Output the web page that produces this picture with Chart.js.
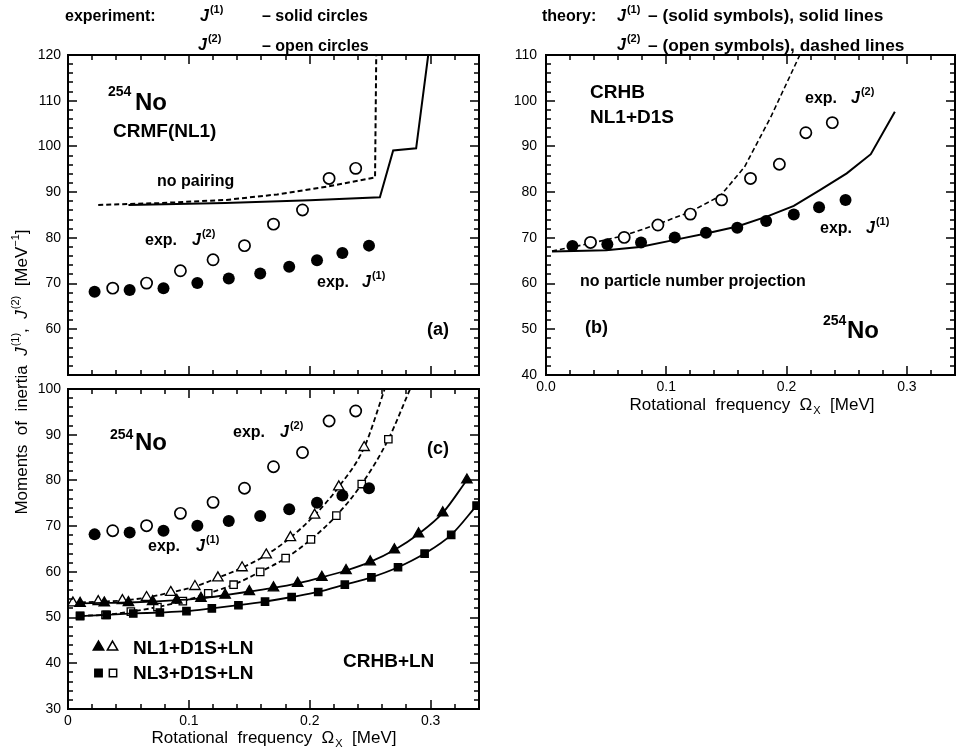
<!DOCTYPE html>
<html>
<head>
<meta charset="utf-8">
<script src="https://cdn.jsdelivr.net/npm/chart.js@4.4.1/dist/chart.umd.min.js"></script>
<style>
  html, body { margin: 0; padding: 0; background: #fff; }
  #wrap { position: relative; width: 961px; height: 756px; }
  #wrap canvas { position: absolute; left: 0; top: 0; }
</style>
</head>
<body>
<div id="wrap">
  <canvas id="panelA" width="961" height="756"></canvas>
  <canvas id="panelB" width="961" height="756"></canvas>
  <canvas id="panelC" width="961" height="756"></canvas>
</div>
<script>
// moments of inertia of 254No vs rotational frequency, three panels

// experiment (shown in every panel)
const expOmegaJ1 = [0.022, 0.051, 0.079, 0.107, 0.133, 0.159, 0.183, 0.206, 0.227, 0.249];
const expJ1      = [68.2, 68.6, 69.0, 70.1, 71.1, 72.2, 73.7, 75.1, 76.7, 78.3];
const expOmegaJ2 = [0.037, 0.065, 0.093, 0.120, 0.146, 0.170, 0.194, 0.216, 0.238];
const expJ2      = [69.0, 70.1, 72.8, 75.2, 78.3, 83.0, 86.1, 93.0, 95.2];

// (a) CRMF(NL1), no pairing
const crmfOmegaJ1 = [0.050, 0.130, 0.200, 0.258, 0.269, 0.288, 0.298];
const crmfJ1      = [87.2, 87.6, 88.2, 88.9, 99.1, 99.6, 120];
const crmfOmegaJ2 = [0.025, 0.076, 0.131, 0.173, 0.214, 0.254, 0.255];
const crmfJ2      = [87.2, 87.6, 88.3, 89.5, 91.2, 93.2, 120];

// (b) CRHB NL1+D1S, no particle number projection
const crhbOmegaJ1 = [0.005, 0.050, 0.078, 0.106, 0.134, 0.159, 0.184, 0.206, 0.228, 0.250, 0.270, 0.290];
const crhbJ1      = [67.0, 67.3, 68.0, 69.5, 71.0, 72.5, 74.7, 77.0, 80.5, 84.1, 88.3, 97.6];
const crhbOmegaJ2 = [0.005, 0.037, 0.065, 0.093, 0.120, 0.145, 0.165, 0.187, 0.211];
const crhbJ2      = [67.1, 68.8, 70.5, 73.0, 75.7, 79.2, 85.5, 96.5, 110];

// (c) CRHB+LN
const nl1OmegaJ1 = [0.01, 0.03, 0.05, 0.07, 0.09, 0.11, 0.13, 0.15, 0.17, 0.19, 0.21, 0.23, 0.25, 0.27, 0.29, 0.31, 0.33];
const nl1J1      = [53.1, 53.2, 53.3, 53.5, 53.8, 54.2, 54.9, 55.7, 56.5, 57.5, 58.8, 60.3, 62.2, 64.8, 68.3, 72.9, 80.1];
const nl1OmegaJ2 = [0.004, 0.025, 0.045, 0.065, 0.085, 0.105, 0.124, 0.144, 0.164, 0.184, 0.204, 0.224, 0.245];
const nl1J2      = [53.2, 53.5, 53.7, 54.4, 55.5, 56.8, 58.7, 60.9, 63.7, 67.5, 72.4, 78.6, 87.2];
const nl1J2TailOmega = [0.262];
const nl1J2Tail      = [100];
const nl3OmegaJ1 = [0.010, 0.032, 0.054, 0.076, 0.098, 0.119, 0.141, 0.163, 0.185, 0.207, 0.229, 0.251, 0.273, 0.295, 0.317, 0.338];
const nl3J1      = [50.3, 50.6, 50.9, 51.1, 51.4, 52.0, 52.7, 53.5, 54.5, 55.6, 57.2, 58.8, 61.0, 64.0, 68.1, 74.5];
const nl3OmegaJ2 = [0.010, 0.031, 0.052, 0.074, 0.095, 0.116, 0.137, 0.159, 0.180, 0.201, 0.222, 0.243, 0.265];
const nl3J2      = [50.4, 50.6, 51.3, 52.3, 53.6, 55.3, 57.2, 60.0, 63.0, 67.1, 72.3, 79.2, 89.0];
const nl3J2TailOmega = [0.283];
const nl3J2Tail      = [100];

// axis ticks
const xTicks = [0, 0.1, 0.2, 0.3];
const xTickTextB = ['0.0', '0.1', '0.2', '0.3'];
const xTickTextC = ['0', '0.1', '0.2', '0.3'];
const yTicksA = [60, 70, 80, 90, 100, 110, 120];
const yTicksB = [40, 50, 60, 70, 80, 90, 100, 110];
const yTicksC = [30, 40, 50, 60, 70, 80, 90, 100];

const FONT = '"Liberation Sans", Arial, Helvetica, sans-serif';
const AXIS_W = 50, AXIS_H = 40;
const X_MINOR = 0.02, Y_MINOR = 2;

const pts = (xs, ys) => xs.map((x, i) => ({ x: x, y: ys[i] }));

// draws a row of text pieces; each piece may change size, weight, style and baseline shift
function runs(ctx, x, y, parts, align) {
  const fontOf = p => `${p.style || 'normal'} ${p.weight || 'normal'} ${p.size}px ${FONT}`;
  let total = 0;
  parts.forEach(p => { ctx.font = fontOf(p); total += ctx.measureText(p.t).width + (p.dx || 0); });
  let cx = align === 'center' ? x - total / 2 : x;
  parts.forEach(p => {
    ctx.font = fontOf(p);
    cx += p.dx || 0;
    ctx.fillText(p.t, cx, y + (p.dy || 0));
    cx += ctx.measureText(p.t).width;
  });
}

function label(ctx, str, x, y, size) {
  ctx.font = `bold ${size}px ${FONT}`;
  ctx.fillText(str, x, y);
}

// italic J with the order as superscript
function moment(ctx, x, y, n, size) {
  runs(ctx, x, y, [
    { t: 'J', size: size, weight: 'bold', style: 'italic' },
    { t: '(' + n + ')', size: 11, weight: 'bold', dy: -8, dx: 1 }
  ]);
}

function nuclide(ctx, x, y, gap, lift) {
  label(ctx, '254', x, y - lift, 14);
  label(ctx, 'No', x + gap, y, 24);
}

function omegaTitle(ctx, cx, y) {
  runs(ctx, cx, y, [
    { t: 'Rotational  frequency  \u03A9', size: 17 },
    { t: 'X', size: 11, dy: 4, dx: 1 },
    { t: '  [MeV]', size: 17 }
  ], 'center');
}

function marker(ctx, style, filled, x, y, r) {
  ctx.beginPath();
  if (style === 'triangle') {
    ctx.moveTo(x, y - r);
    ctx.lineTo(x + r * 0.866, y + r * 0.5);
    ctx.lineTo(x - r * 0.866, y + r * 0.5);
    ctx.closePath();
  } else {
    const s = r * Math.SQRT1_2;
    ctx.rect(x - s, y - s, 2 * s, 2 * s);
  }
  ctx.lineWidth = 1.5;
  ctx.fillStyle = filled ? '#000' : '#fff';
  ctx.fill();
  ctx.stroke();
  ctx.fillStyle = '#000';
}

// box with inward ticks on all four sides
const frame = {
  id: 'frame',
  afterDatasetsDraw(chart) {
    const { ctx, chartArea: a, scales: { x, y } } = chart;
    ctx.save();
    ctx.strokeStyle = '#000';
    ctx.lineWidth = 1.5;
    ctx.beginPath();
    const nx = Math.round(x.max / X_MINOR);
    for (let k = 1; k < nx; k++) {
      const len = k % 5 === 0 ? 9 : 5;
      const px = Math.round(x.getPixelForValue(k * X_MINOR));
      ctx.moveTo(px, a.bottom); ctx.lineTo(px, a.bottom - len);
      ctx.moveTo(px, a.top); ctx.lineTo(px, a.top + len);
    }
    const k0 = Math.round(y.min / Y_MINOR), k1 = Math.round(y.max / Y_MINOR);
    for (let k = k0 + 1; k < k1; k++) {
      const len = (k * Y_MINOR) % 10 === 0 ? 9 : 5;
      const py = Math.round(y.getPixelForValue(k * Y_MINOR));
      ctx.moveTo(a.left, py); ctx.lineTo(a.left + len, py);
      ctx.moveTo(a.right, py); ctx.lineTo(a.right - len, py);
    }
    ctx.stroke();
    ctx.lineWidth = 2;
    ctx.strokeRect(a.left, a.top, a.right - a.left, a.bottom - a.top);
    ctx.restore();
  }
};

function notes(id, draw) {
  return {
    id: id,
    afterDraw(chart) {
      const ctx = chart.ctx;
      ctx.save();
      ctx.fillStyle = '#000';
      ctx.strokeStyle = '#000';
      ctx.textBaseline = 'alphabetic';
      ctx.textAlign = 'left';
      draw(ctx);
      ctx.restore();
    }
  };
}

function expSets() {
  return [
    { data: pts(expOmegaJ1, expJ1), showLine: false, pointStyle: 'circle', pointRadius: 6,
      pointBackgroundColor: '#000', pointBorderColor: '#000', pointBorderWidth: 0 },
    { data: pts(expOmegaJ2, expJ2), showLine: false, pointStyle: 'circle', pointRadius: 5.6,
      pointBackgroundColor: '#fff', pointBorderColor: '#000', pointBorderWidth: 1.7 }
  ];
}

function curve(data, dashed, width) {
  return { data: data, showLine: true, pointRadius: 0, borderColor: '#000',
    borderWidth: width, borderDash: dashed ? [5, 3] : [], tension: 0 };
}

function symbolCurve(data, n, style, filled, dashed) {
  return { data: data, showLine: true, borderColor: '#000', borderWidth: 1.8,
    borderDash: dashed ? [5, 3] : [], cubicInterpolationMode: 'monotone',
    pointStyle: style, pointRadius: ctx => ctx.dataIndex < n ? (style === 'rect' ? 5.2 : 6) : 0,
    pointBackgroundColor: filled ? '#000' : '#fff', pointBorderColor: '#000', pointBorderWidth: 1.3 };
}

function makePanel(id, box, yMin, yMax, yTicks, xText, xPad, yPad, datasets, plugins) {
  const tickFont = { family: FONT, size: 14 };
  return new Chart(document.getElementById(id), {
    type: 'scatter',
    data: { datasets: datasets },
    options: {
      responsive: false,
      animation: false,
      events: [],
      layout: {
        autoPadding: false,
        padding: { left: box[0] - AXIS_W, top: box[1], right: 961 - box[2], bottom: 756 - box[3] - AXIS_H }
      },
      plugins: { legend: { display: false }, tooltip: { enabled: false }, title: { display: false } },
      scales: {
        x: {
          type: 'linear', min: 0, max: 0.34,
          afterFit: s => { s.height = AXIS_H; },
          afterBuildTicks: s => { s.ticks = xTicks.map(v => ({ value: v })); },
          grid: { display: false, drawTicks: false }, border: { display: false },
          ticks: { display: !!xText, font: tickFont, color: '#000', padding: xPad, maxRotation: 0,
            autoSkip: false, callback: (v, i) => xText ? xText[i] : '' }
        },
        y: {
          type: 'linear', min: yMin, max: yMax,
          afterFit: s => { s.width = AXIS_W; },
          afterBuildTicks: s => { s.ticks = yTicks.map(v => ({ value: v })); },
          grid: { display: false, drawTicks: false }, border: { display: false },
          ticks: { font: tickFont, color: '#000', padding: yPad, autoSkip: false,
            callback: (v, i) => String(yTicks[i]) }
        }
      }
    },
    plugins: [frame].concat(plugins)
  });
}

// (a) with the page header and the shared y title
makePanel('panelA', [68, 55, 479, 375], 50, 120, yTicksA, null, 4, 7,
  expSets().concat([
    curve(pts(crmfOmegaJ1, crmfJ1), false, 2),
    curve(pts(crmfOmegaJ2, crmfJ2), true, 2)
  ]),
  [notes('notesA', ctx => {
    label(ctx, 'experiment:', 65, 21, 16);
    moment(ctx, 200, 21, 1, 16);
    label(ctx, '\u2013 solid circles', 262, 21, 16);
    moment(ctx, 198, 50, 2, 16);
    label(ctx, '\u2013 open circles', 262, 51, 16);

    label(ctx, 'theory:', 542, 21, 16);
    moment(ctx, 617, 21, 1, 16);
    label(ctx, '\u2013 (solid symbols), solid lines', 648, 21, 17.3);
    moment(ctx, 617, 50, 2, 16);
    label(ctx, '\u2013 (open symbols), dashed lines', 648, 51, 17.3);

    nuclide(ctx, 108, 110, 27, 14);
    label(ctx, 'CRMF(NL1)', 113, 137, 19);
    label(ctx, 'no pairing', 157, 186, 16);
    label(ctx, 'exp.', 145, 245, 16);
    moment(ctx, 192, 245, 2, 16);
    label(ctx, 'exp.', 317, 287, 16);
    moment(ctx, 362, 287, 1, 16);
    label(ctx, '(a)', 427, 335, 18);

    ctx.save();
    ctx.translate(27, 372);
    ctx.rotate(-Math.PI / 2);
    runs(ctx, 0, 0, [
      { t: 'Moments  of  inertia  ', size: 17 },
      { t: 'J', size: 17, style: 'italic' },
      { t: '(1)', size: 11, dy: -8, dx: 1 },
      { t: ',  ', size: 17 },
      { t: 'J', size: 17, style: 'italic' },
      { t: '(2)', size: 11, dy: -8, dx: 1 },
      { t: '  [MeV', size: 17 },
      { t: '\u22121', size: 11, dy: -8 },
      { t: ']', size: 17 }
    ], 'center');
    ctx.restore();
  })]);

// (b)
makePanel('panelB', [546, 55, 955, 375], 40, 110, yTicksB, xTickTextB, 4, 9,
  expSets().concat([
    curve(pts(crhbOmegaJ1, crhbJ1), false, 2),
    curve(pts(crhbOmegaJ2, crhbJ2), true, 1.6)
  ]),
  [notes('notesB', ctx => {
    label(ctx, 'CRHB', 590, 98, 19);
    label(ctx, 'NL1+D1S', 590, 123, 19);
    label(ctx, 'exp.', 805, 103, 16);
    moment(ctx, 851, 103, 2, 16);
    label(ctx, 'exp.', 820, 233, 16);
    moment(ctx, 866, 233, 1, 16);
    label(ctx, 'no particle number projection', 580, 286, 16);
    label(ctx, '(b)', 585, 333, 18);
    nuclide(ctx, 823, 338, 24, 13);
    omegaTitle(ctx, 752, 410);
  })]);

// (c)
makePanel('panelC', [68, 389, 479, 709], 30, 100, yTicksC, xTickTextC, 4, 7,
  expSets().concat([
    symbolCurve(pts(nl1OmegaJ1, nl1J1), nl1J1.length, 'triangle', true, false),
    symbolCurve(pts(nl1OmegaJ2.concat(nl1J2TailOmega), nl1J2.concat(nl1J2Tail)), nl1J2.length, 'triangle', false, true),
    symbolCurve(pts(nl3OmegaJ1, nl3J1), nl3J1.length, 'rect', true, false),
    symbolCurve(pts(nl3OmegaJ2.concat(nl3J2TailOmega), nl3J2.concat(nl3J2Tail)), nl3J2.length, 'rect', false, true)
  ]),
  [notes('notesC', ctx => {
    nuclide(ctx, 110, 450, 25, 11);
    label(ctx, 'exp.', 233, 437, 16);
    moment(ctx, 280, 437, 2, 16);
    label(ctx, '(c)', 427, 454, 18);
    label(ctx, 'exp.', 148, 551, 16);
    moment(ctx, 196, 551, 1, 16);

    marker(ctx, 'triangle', true, 98.5, 647, 6);
    marker(ctx, 'triangle', false, 112.5, 647, 6);
    label(ctx, 'NL1+D1S+LN', 133, 654, 19);
    marker(ctx, 'rect', true, 98.5, 673, 5.2);
    marker(ctx, 'rect', false, 113, 673, 5.2);
    label(ctx, 'NL3+D1S+LN', 133, 679, 19);
    label(ctx, 'CRHB+LN', 343, 667, 19);
    omegaTitle(ctx, 274, 743);
  })]);
</script>
</body>
</html>
